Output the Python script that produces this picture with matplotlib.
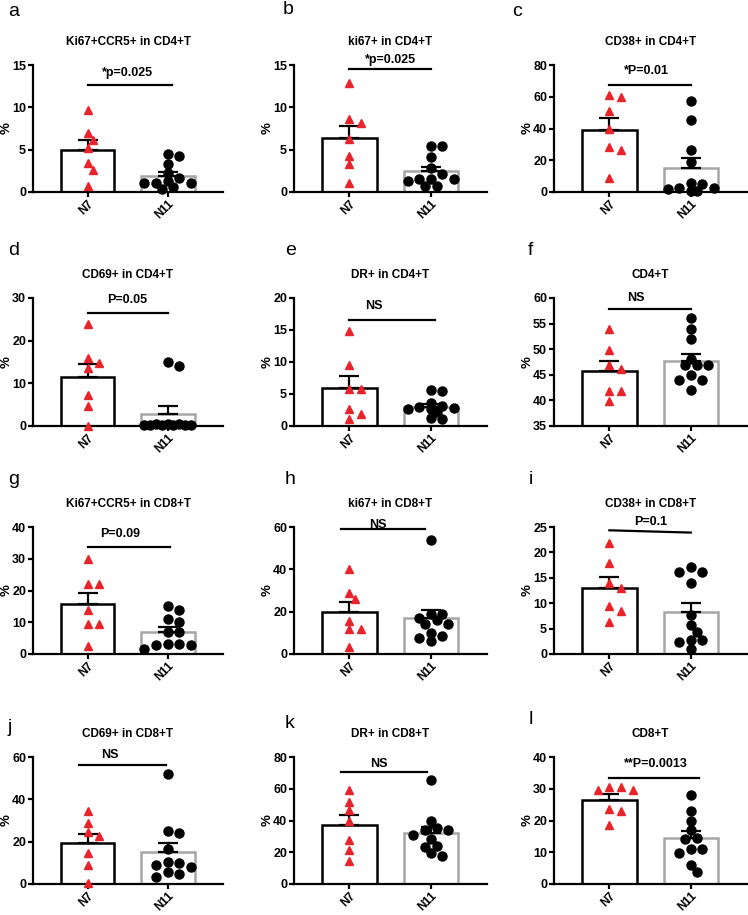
#!/usr/bin/env python
# -*- coding: utf-8 -*-

import numpy as np
import matplotlib
matplotlib.use('Agg')
import matplotlib.pyplot as plt

plt.rcParams['font.family'] = ['Liberation Sans', 'DejaVu Sans']

# ---- data ----
letters = list('abcdefghijkl')
titles = ['Ki67+CCR5+ in CD4+T', 'ki67+ in CD4+T', 'CD38+ in CD4+T',
          'CD69+ in CD4+T', 'DR+ in CD4+T', 'CD4+T',
          'Ki67+CCR5+ in CD8+T', 'ki67+ in CD8+T', 'CD38+ in CD8+T',
          'CD69+ in CD8+T', 'DR+ in CD8+T', 'CD8+T']
groups = ['N7', 'N11']

n7 = [
    [9.7, 7.0, 6.2, 5.2, 3.4, 2.6, 0.7],
    [12.9, 8.6, 8.1, 6.3, 4.2, 3.25, 1.1],
    [59.8, 60.8, 51.0, 40.0, 28.2, 26.7, 8.8],
    [23.8, 15.9, 14.8, 13.6, 7.2, 4.8, 0.0],
    [14.8, 9.6, 5.8, 5.8, 2.6, 1.8, 1.15],
    [53.9, 49.8, 47.0, 46.1, 41.9, 41.9, 39.9],
    [30.0, 22.0, 22.0, 14.0, 9.6, 9.6, 2.4],
    [40.0, 29.0, 26.0, 15.7, 11.8, 11.8, 3.1],
    [21.9, 18.0, 12.9, 13.9, 9.5, 8.5, 6.3],
    [34.7, 28.8, 24.5, 22.5, 14.7, 9.2, 0.3],
    [59.2, 51.5, 46.3, 40.0, 27.5, 21.3, 14.6],
    [30.7, 29.6, 29.6, 30.7, 23.7, 22.9, 18.6],
]
n11 = [
    [4.3, 4.5, 3.3, 2.2, 1.6, 1.1, 1.1, 0.4, 0.55, 1.05, 1.25],
    [5.4, 5.4, 4.1, 2.8, 2.15, 1.55, 1.3, 1.55, 1.55, 0.7, 0.7],
    [57.3, 45.3, 26.3, 18.7, 5.7, 2.5, 1.9, 0.4, 0.8, 2.5, 5.3],
    [15.0, 14.0, 0.5, 0.3, 0.4, 0.2, 0.3, 0.4, 0.3, 0.2, 0.3],
    [5.5, 5.6, 3.6, 2.7, 2.9, 3.1, 2.8, 2.7, 1.3, 1.1, 2.2],
    [56.0, 54.0, 51.9, 48.0, 46.9, 46.9, 46.9, 44.0, 44.0, 45.0, 42.0],
    [15.0, 14.0, 10.0, 11.0, 7.0, 7.0, 3.3, 2.8, 1.5, 2.8, 3.0],
    [54.0, 19.0, 19.0, 17.0, 16.0, 14.0, 14.0, 10.0, 8.5, 7.5, 6.0],
    [17.1, 16.1, 16.1, 14.0, 7.6, 5.7, 4.4, 2.8, 2.35, 2.8, 1.0],
    [51.9, 25.0, 24.0, 16.4, 9.7, 9.2, 10.2, 7.8, 5.8, 4.5, 3.4],
    [65.8, 40.0, 34.2, 35.2, 31.0, 34.2, 28.5, 23.3, 24.0, 17.7, 19.8],
    [28.0, 22.9, 20.0, 17.0, 14.2, 14.6, 11.1, 11.1, 9.8, 6.1, 3.8],
]

ylims = [(0, 15), (0, 15), (0, 80), (0, 30), (0, 20), (35, 60),
         (0, 40), (0, 60), (0, 25), (0, 60), (0, 80), (0, 40)]
ysteps = [5, 5, 20, 10, 5, 5, 10, 20, 5, 20, 20, 10]

p_labels = ['*p=0.025', '*p=0.025', '*P=0.01', 'P=0.05', 'NS', 'NS',
            'P=0.09', 'NS', 'P=0.1', 'NS', 'NS', '**P=0.0013']
p_line_y = [(12.6, 12.6), (14.5, 14.5), (67.4, 67.4), (26.5, 26.5),
            (16.6, 16.6), (57.8, 57.8), (33.7, 33.7), (58.9, 58.9),
            (24.35, 23.9), (56.1, 56.1), (70.8, 70.8), (33.3, 33.3)]
p_line_x = [(0, 1.05), (0, 1), (0, 1), (0, 1), (0, 1.05), (0, 1),
            (0, 1.03), (-0.1, 0.93), (0, 1), (-0.1, 0.98), (-0.1, 0.95), (0, 1.1)]
p_text_y = [14.0, 15.6, 76, 29.5, 18.75, 60, 37.9, 61, 26, 61, 75.4, 37.7]
p_text_x = [0.5, 0.5, 0.45, 0.5, 0.3, 0.33, 0.41, 0.35, 0.51, 0.28, 0.36, 0.57]

# ---- layout (pixels of the 748x915 figure) ----
W, H = 748, 915
col_left = [33, 294, 554]
col_width = [190, 193, 193]
row_top = [65, 298, 527, 757]
row_bottom = [192, 426, 654, 884]
letter_pos = [(8, 12), (283, 10), (512, 12),
              (8, 250), (285, 250), (528, 250),
              (8, 480), (285, 480), (529, 480),
              (8, 728), (285, 724), (529, 720)]

RED = '#e8232a'
GREY = '#a6a6a6'


def swarm_offsets(ax, values, center, step_px=5.8):
    """
    Greedy Prism-like scatter: each point goes to the nearest free slot.
    First try without overlap inside the bar, then allow some overlap.
    """
    to_px = ax.transData.transform
    ys = [to_px((center, v))[1] for v in values]
    px_per_x = to_px((1, 0))[0] - to_px((0, 0))[0]
    placed = []
    offsets = np.zeros(len(values))
    passes = [(8.0, [0, 1, -1, 2, -2, 3, -3, 4, -4]),
              (5.6, [0, 1, -1, 2, -2, 3, -3, 4, -4, 5, -5, 6, -6])]
    for i in np.argsort(values)[::-1]:
        x = None
        for diam, slots in passes:
            for k in slots:
                cand = k * step_px
                if all(np.hypot(cand - px, ys[i] - py) >= diam for px, py in placed):
                    x = cand
                    break
            if x is not None:
                break
        if x is None:
            x = 0.0
        placed.append((x, ys[i]))
        offsets[i] = x / px_per_x
    return offsets


def plot_panel(ax, k):
    lo, hi = ylims[k]
    ax.set_xlim(-0.68, 1.69)
    ax.set_ylim(lo, hi)
    data = [np.array(n7[k]), np.array(n11[k])]
    edge = ['black', GREY]
    for j, d in enumerate(data):
        m = d.mean()
        sem = d.std(ddof=1) / np.sqrt(len(d))
        ax.bar(j, m - lo, bottom=lo, width=0.67, color='white',
               edgecolor=edge[j], linewidth=1.8, zorder=1)
        ax.errorbar(j, m, yerr=[[0], [sem]], fmt='none', ecolor='black',
                    elinewidth=1.6, capsize=7, capthick=1.6, zorder=2)

    # points
    off7 = swarm_offsets(ax, data[0], 0)
    ax.plot(off7, data[0], linestyle='none', marker='^', ms=6.3,
            color=RED, mec=RED, zorder=3, clip_on=False)
    off11 = swarm_offsets(ax, data[1], 1)
    ax.plot(1 + off11, data[1], linestyle='none', marker='o', ms=6.5,
            color='black', zorder=3, clip_on=False)

    # significance bar
    ax.plot(p_line_x[k], p_line_y[k], color='black', lw=1.6, clip_on=False)
    ax.text(p_text_x[k], p_text_y[k], p_labels[k], ha='center', va='center',
            fontsize=9, fontweight='bold', clip_on=False)

    # axes style
    for s in ['top', 'right']:
        ax.spines[s].set_visible(False)
    for s in ['left', 'bottom']:
        ax.spines[s].set_linewidth(1.6)
    ax.set_yticks(np.arange(lo, hi + 0.01, ysteps[k]))
    ax.set_xticks([0, 1])
    ax.set_xticklabels(groups, rotation=45, ha='right', rotation_mode='anchor')
    ax.tick_params(width=1.6, length=3.5, labelsize=9, pad=1.5)
    ax.tick_params(axis='x', labelsize=8.5, pad=1)
    for lab in ax.get_xticklabels() + ax.get_yticklabels():
        lab.set_fontweight('bold')
    ax.set_ylabel('%', fontsize=9.5, fontweight='bold')
    ax.yaxis.set_label_coords(-0.105, 0.5)
    ax.annotate(titles[k], xy=(0.5, 1), xycoords='axes fraction',
                xytext=(0, 16.5), textcoords='offset points',
                ha='center', va='center', fontsize=8.5, fontweight='bold')


def main():
    fig = plt.figure(figsize=(W / 100, H / 100), dpi=100)
    for k in range(12):
        r, c = divmod(k, 3)
        rect = [col_left[c] / W, 1 - row_bottom[r] / H,
                col_width[c] / W, (row_bottom[r] - row_top[r]) / H]
        ax = fig.add_axes(rect)
        plot_panel(ax, k)
        lx, ly = letter_pos[k]
        fig.text(lx / W, 1 - ly / H, letters[k], fontsize=14,
                 ha='left', va='center')
    fig.savefig('out.png', dpi=100)


if __name__ == "__main__":
    main()
